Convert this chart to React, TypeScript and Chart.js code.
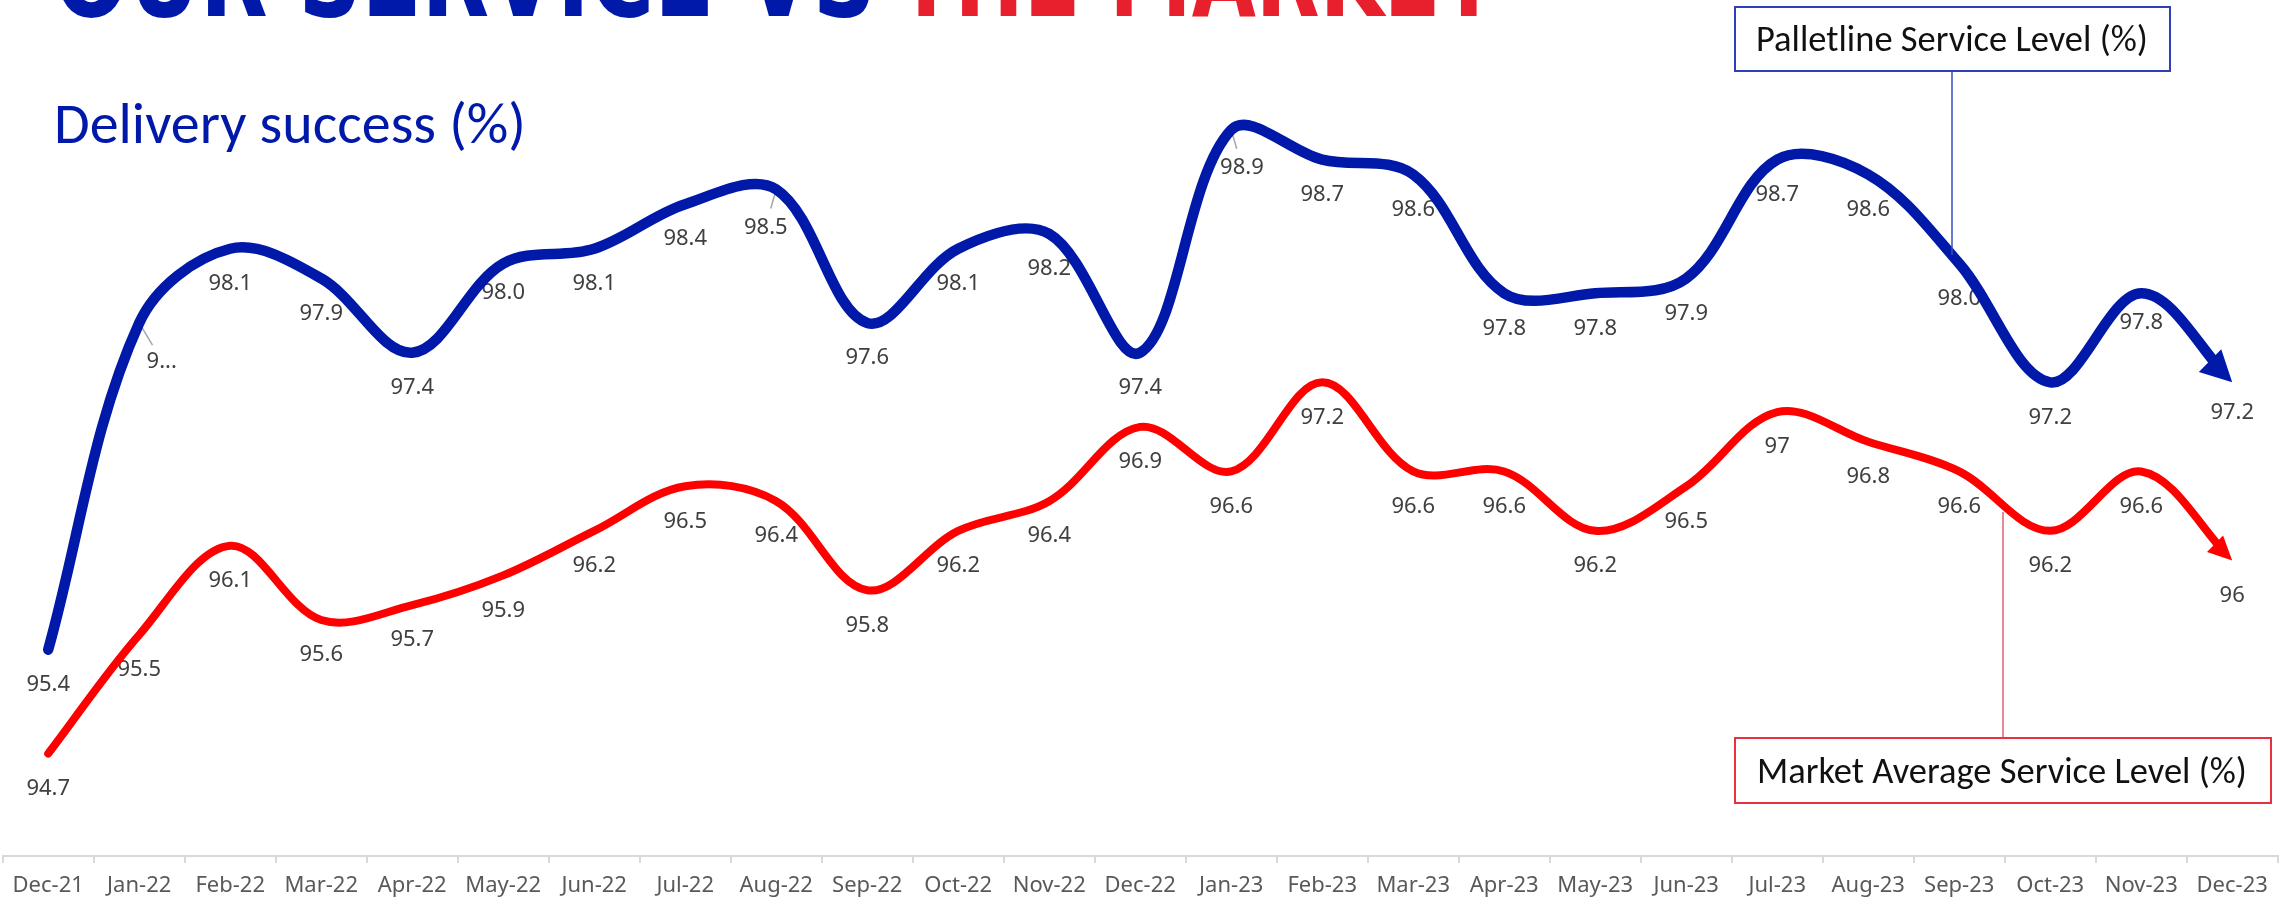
import React, { useEffect, useRef } from 'react';
import { Chart, registerables } from 'chart.js';

Chart.register(...registerables);

// ---------- DATA ----------
const months = [
  'Dec-21', 'Jan-22', 'Feb-22', 'Mar-22', 'Apr-22', 'May-22', 'Jun-22', 'Jul-22', 'Aug-22',
  'Sep-22', 'Oct-22', 'Nov-22', 'Dec-22', 'Jan-23', 'Feb-23', 'Mar-23', 'Apr-23', 'May-23',
  'Jun-23', 'Jul-23', 'Aug-23', 'Sep-23', 'Oct-23', 'Nov-23', 'Dec-23',
];

const palletlineService = [
  95.4, 97.6, 98.1, 97.9, 97.4, 98.0, 98.1, 98.4, 98.5, 97.6, 98.1, 98.2, 97.4,
  98.9, 98.7, 98.6, 97.8, 97.8, 97.9, 98.7, 98.6, 98.0, 97.2, 97.8, 97.2,
];

const marketAverage = [
  94.7, 95.5, 96.1, 95.6, 95.7, 95.9, 96.2, 96.5, 96.4, 95.8, 96.2, 96.4, 96.9,
  96.6, 97.2, 96.6, 96.6, 96.2, 96.5, 97.0, 96.8, 96.6, 96.2, 96.6, 96.0,
];

const titleLeft = 'OUR SERVICE VS';
const titleRight = 'THE MARKET';
const subtitle = 'Delivery success (%)';
const palletlineName = 'Palletline Service Level (%)';
const marketName = 'Market Average Service Level (%)';

// ---------- STYLE ----------
const BLUE = '#0019A8';
const RED = '#FF0000';
const TITLE_RED = '#E8202E';
const LABEL_COLOR = '#404040';
const LABEL_FONT = "22px 'Noto Sans', 'Open Sans', sans-serif";
const LABEL_DY = 33.5;

// manual label moves (dx, dy from point) as in the original layout
const labelMoves: Record<string, [number, number]> = {
  '0-1': [22.5, 37.7],
  '0-5': [0, 28],
  '0-8': [-10.4, 36.4],
  '0-13': [10.7, 36],
  '0-23': [0, 28],
  '0-24': [0, 29],
};
const labelText: Record<string, string> = { '0-1': '9...' };
const labelLeaders = ['0-1', '0-8', '0-13'];

const arrowStyle = [
  { len: 31, width: 32 },
  { len: 24, width: 23 },
];

function fitFont(ctx: CanvasRenderingContext2D, text: string, family: string, weight: string, width: number) {
  ctx.font = `${weight} 40px ${family}`;
  const w = ctx.measureText(text).width;
  const size = (40 * width) / w;
  ctx.font = `${weight} ${size}px ${family}`;
}

function endDirection(meta: any) {
  const pts = meta.data;
  const last = pts[pts.length - 1];
  const prev = pts[pts.length - 2];
  const cx = last.cp1x !== undefined ? last.cp1x : prev.x;
  const cy = last.cp1y !== undefined ? last.cp1y : prev.y;
  let dx = last.x - cx;
  let dy = last.y - cy;
  const d = Math.hypot(dx, dy) || 1;
  return { x: last.x, y: last.y, dx: dx / d, dy: dy / d };
}

const annotationPlugin = {
  id: 'annotationPlugin',
  beforeDatasetsDraw(chart: any) {
    const ctx: CanvasRenderingContext2D = chart.ctx;
    ctx.save();
    chart.data.datasets.forEach((ds: any, di: number) => {
      const meta = chart.getDatasetMeta(di);
      meta.data.forEach((pt: any, i: number) => {
        const key = `${di}-${i}`;
        const v = ds.data[i];
        let txt = di === 0 ? v.toFixed(1) : String(v);
        if (labelText[key]) txt = labelText[key];
        const mv = labelMoves[key] || [0, LABEL_DY];
        const lx = pt.x + mv[0];
        const ly = pt.y + mv[1];
        if (labelLeaders.includes(key)) {
          const dx = lx - pt.x;
          const dy = ly - pt.y;
          const d = Math.hypot(dx, dy);
          const ux = dx / d;
          const uy = dy / d;
          ctx.strokeStyle = '#A6A6A6';
          ctx.lineWidth = 1.5;
          ctx.beginPath();
          ctx.moveTo(pt.x + ux * 2, pt.y + uy * 2);
          ctx.lineTo(lx - ux * 18, ly - uy * 18);
          ctx.stroke();
        }
        ctx.font = LABEL_FONT;
        ctx.fillStyle = LABEL_COLOR;
        ctx.textAlign = 'center';
        ctx.textBaseline = 'alphabetic';
        ctx.fillText(txt, lx, ly + 7.8);
      });
    });
    ctx.restore();
  },
  beforeDatasetDraw(chart: any, args: any) {
    const ctx: CanvasRenderingContext2D = chart.ctx;
    const e = endDirection(args.meta);
    const st = arrowStyle[args.index];
    const bx = e.x - e.dx * (st.len - 2);
    const by = e.y - e.dy * (st.len - 2);
    const nx = -e.dy;
    const ny = e.dx;
    const B = 10000;
    ctx.save();
    ctx.beginPath();
    ctx.moveTo(bx + nx * B, by + ny * B);
    ctx.lineTo(bx - nx * B, by - ny * B);
    ctx.lineTo(bx - nx * B - e.dx * B, by - ny * B - e.dy * B);
    ctx.lineTo(bx + nx * B - e.dx * B, by + ny * B - e.dy * B);
    ctx.closePath();
    ctx.clip();
  },
  afterDatasetDraw(chart: any, args: any) {
    const ctx: CanvasRenderingContext2D = chart.ctx;
    ctx.restore();
    const e = endDirection(args.meta);
    const st = arrowStyle[args.index];
    const ds = chart.data.datasets[args.index];
    const bx = e.x - e.dx * st.len;
    const by = e.y - e.dy * st.len;
    const nx = -e.dy;
    const ny = e.dx;
    ctx.save();
    ctx.fillStyle = ds.borderColor;
    ctx.beginPath();
    ctx.moveTo(e.x, e.y);
    ctx.lineTo(bx + (nx * st.width) / 2, by + (ny * st.width) / 2);
    ctx.lineTo(bx - (nx * st.width) / 2, by - (ny * st.width) / 2);
    ctx.closePath();
    ctx.fill();
    ctx.restore();
  },
  afterDraw(chart: any) {
    const ctx: CanvasRenderingContext2D = chart.ctx;
    ctx.save();
    ctx.textAlign = 'left';
    ctx.textBaseline = 'alphabetic';

    // Title (mostly cut off at the top)
    const tFam = "'Liberation Sans Narrow', 'DejaVu Sans Condensed', sans-serif";
    const drawStretched = (text: string, x: number, w: number, color: string) => {
      ctx.font = `bold 115px ${tFam}`;
      const mw = ctx.measureText(text).width;
      ctx.save();
      ctx.translate(x, 15.5);
      ctx.scale(w / mw, 1);
      ctx.fillStyle = color;
      ctx.fillText(text, 0, 0);
      ctx.restore();
    };
    drawStretched(titleLeft, 54, 822, BLUE);
    drawStretched(titleRight, 898, 599, TITLE_RED);

    // Subtitle
    const sFam = "Carlito, Lato, 'Open Sans', sans-serif";
    fitFont(ctx, subtitle, sFam, 'normal', 472);
    ctx.fillStyle = BLUE;
    ctx.fillText(subtitle, 54, 143);

    // Palletline box
    ctx.fillStyle = '#FFFFFF';
    ctx.fillRect(1735, 7, 435, 64);
    ctx.strokeStyle = '#2E40B4';
    ctx.lineWidth = 2;
    ctx.strokeRect(1735, 7, 435, 64);
    ctx.strokeStyle = '#3A4CC0';
    ctx.lineWidth = 1.5;
    ctx.beginPath();
    ctx.moveTo(1952, 72);
    ctx.lineTo(1952, 255);
    ctx.stroke();
    fitFont(ctx, palletlineName, sFam, 'normal', 392);
    ctx.fillStyle = '#111111';
    ctx.fillText(palletlineName, 1756, 51);

    // Market box
    ctx.fillStyle = '#FFFFFF';
    ctx.fillRect(1735, 738, 536, 65);
    ctx.strokeStyle = '#E83040';
    ctx.lineWidth = 2;
    ctx.strokeRect(1735, 738, 536, 65);
    ctx.strokeStyle = '#E06070';
    ctx.lineWidth = 1.5;
    ctx.beginPath();
    ctx.moveTo(2003, 737);
    ctx.lineTo(2003, 512);
    ctx.stroke();
    fitFont(ctx, marketName, sFam, 'normal', 490);
    ctx.fillStyle = '#111111';
    ctx.fillText(marketName, 1757, 783);

    ctx.restore();
  },
};

export default function App() {
  const canvasRef = useRef<HTMLCanvasElement | null>(null);

  useEffect(() => {
    const canvas = canvasRef.current;
    if (!canvas) return;
    const chart = new Chart(canvas, {
      type: 'line',
      data: {
        labels: months,
        datasets: [
          {
            label: palletlineName,
            data: palletlineService,
            borderColor: BLUE,
            backgroundColor: BLUE,
            borderWidth: 10.5,
            pointRadius: 0,
            tension: 0.35,
            borderCapStyle: 'round',
            borderJoinStyle: 'round',
            clip: false as any,
            fill: false,
          },
          {
            label: marketName,
            data: marketAverage,
            borderColor: RED,
            backgroundColor: RED,
            borderWidth: 8,
            pointRadius: 0,
            tension: 0.35,
            borderCapStyle: 'round',
            borderJoinStyle: 'round',
            clip: false as any,
            fill: false,
          },
        ],
      },
      options: {
        responsive: false,
        maintainAspectRatio: false,
        devicePixelRatio: 1,
        animation: false,
        layout: { padding: { left: 2.7, right: 12.3, top: 0, bottom: 0 } },
        plugins: {
          legend: { display: false },
          tooltip: { enabled: false },
          title: { display: false },
        },
        scales: {
          x: {
            type: 'category',
            offset: true,
            grid: {
              display: true,
              offset: true,
              drawOnChartArea: false,
              drawTicks: true,
              tickLength: 7,
              color: '#D9D9D9',
              lineWidth: 2,
            },
            border: { display: true, color: '#D9D9D9', width: 2 },
            ticks: {
              color: '#595959',
              font: { family: "'Noto Sans', 'Open Sans', sans-serif", size: 22 },
              padding: 10,
              maxRotation: 0,
              autoSkip: false,
            },
            afterFit: (scale: any) => {
              scale.height = 44;
            },
          },
          y: {
            display: false,
            min: 94.0104,
            max: 99.775,
          },
        },
      },
      plugins: [annotationPlugin],
    });
    return () => chart.destroy();
  }, []);

  return (
    <div style={{ position: 'absolute', left: 0, top: 0, width: 2290, height: 900, background: '#FFFFFF' }}>
      <canvas ref={canvasRef} width={2290} height={900} style={{ display: 'block', width: 2290, height: 900 }} />
    </div>
  );
}
